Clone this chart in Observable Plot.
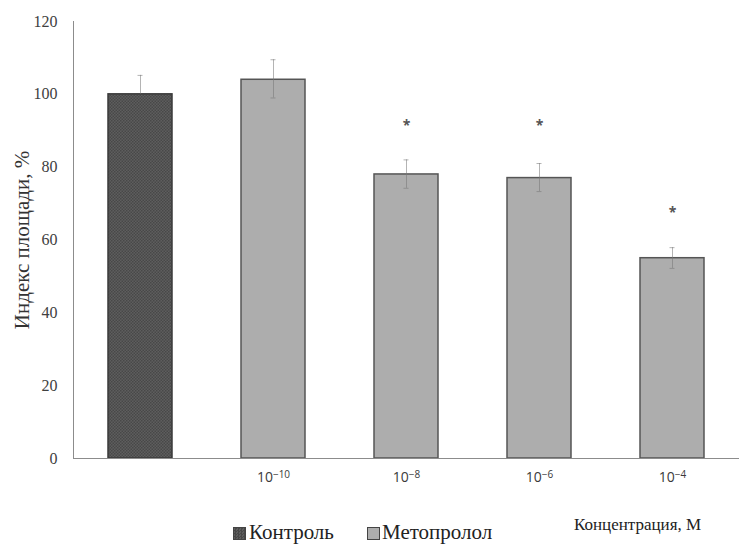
<!DOCTYPE html>
<html><head><meta charset="utf-8">
<script src="https://cdn.jsdelivr.net/npm/d3@7"></script>
<script src="https://cdn.jsdelivr.net/npm/@observablehq/plot@0.6"></script>
<style>
body{margin:0;background:#fff;}
#wrap{position:relative;width:746px;height:549px;overflow:hidden;}
.leg{position:absolute;font-family:"Liberation Serif","DejaVu Serif",serif;color:#222;white-space:nowrap;}
.sw{position:absolute;width:11px;height:11px;border:1px solid #444;}
</style></head><body><div id="wrap"></div>
<script>
// ---- data ----
const categories = ["control", "1e-10", "1e-8", "1e-6", "1e-4"];
const tickBase = ["", "10", "10", "10", "10"];
const tickExp = ["", "−10", "−8", "−6", "−4"];
const groups = ["Контроль", "Метопролол"];
const groupOf = ["Контроль", "Метопролол", "Метопролол", "Метопролол", "Метопролол"];
const values = [100, 104, 78, 77, 55];
const errPlus = [5.2, 5.5, 4, 4, 2.9];
const errMinus = [0, 5, 3.8, 3.7, 2.8];
const starY = [null, null, 92, 92, 68];
const yTicks = [0, 20, 40, 60, 80, 100, 120];
const yLabel = "Индекс площади, %";
const xLabel = "Концентрация, М";

const data = categories.map((c, i) => ({
  cat: c, group: groupOf[i], value: values[i],
  lo: values[i] - errMinus[i], hi: values[i] + errPlus[i],
  hasLo: errMinus[i] > 0, star: starY[i]
}));

const serif = '"Liberation Serif","DejaVu Serif",serif';
const sans = '"Open Sans","Liberation Sans",sans-serif';

const plot = Plot.plot({
  width: 746, height: 500,
  marginLeft: 73, marginRight: 7, marginTop: 21, marginBottom: 42,
  style: {background: "#fff", color: "#404040"},
  x: {domain: categories, paddingInner: 0.52, paddingOuter: 0.26, axis: null},
  y: {domain: [0, 120], axis: null},
  marks: [
    Plot.barY(data.filter(d => d.group === groups[0]), {x: "cat", y: "value", fill: "url(#ctrlPat)", stroke: "#3a3a3a", strokeWidth: 1.5}),
    Plot.barY(data.filter(d => d.group === groups[1]), {x: "cat", y: "value", fill: "#adadad", stroke: "#555", strokeWidth: 1.5}),
    Plot.ruleX(data, {x: "cat", y1: "lo", y2: "hi", stroke: "#777", strokeOpacity: 0.55}),
    Plot.tickY(data, {x: "cat", y: "hi", insetLeft: 29.5, insetRight: 29.5, stroke: "#777", strokeOpacity: 0.55}),
    Plot.tickY(data.filter(d => d.hasLo), {x: "cat", y: "lo", insetLeft: 29.5, insetRight: 29.5, stroke: "#777", strokeOpacity: 0.55}),
    Plot.text(data.filter(d => d.star != null), {x: "cat", y: "star", text: () => "*", fontSize: 14, fontWeight: 700, fill: "#555", dy: 2}),
    Plot.ruleY([0], {stroke: "#8c8c8c"}),
    Plot.frame({anchor: "left", stroke: "#8c8c8c"}),
    Plot.axisY({ticks: yTicks, tickSize: 0, tickPadding: 16, fontSize: 16,
      label: yLabel, labelAnchor: "center", labelOffset: 59, labelArrow: "none"}),
    Plot.axisX({tickSize: 0, tickPadding: 14, fontSize: 14,
      tickFormat: d => d, label: null})
  ]
});

const svg = d3.select(plot);
const defs = svg.insert("defs", ":first-child");
const pat = defs.append("pattern").attr("id", "ctrlPat").attr("width", 3).attr("height", 3).attr("patternUnits", "userSpaceOnUse");
pat.append("rect").attr("width", 3).attr("height", 3).attr("fill", "#5e5e5e");
pat.append("rect").attr("width", 1.5).attr("height", 1.5).attr("fill", "#484848");
pat.append("rect").attr("x", 1.5).attr("y", 1.5).attr("width", 1.5).attr("height", 1.5).attr("fill", "#484848");

// fonts
svg.selectAll('[aria-label="y-axis tick label"] text').style("font-family", serif).style("font-size", "16px").attr("fill", "#404040");
svg.selectAll('[aria-label="y-axis label"] text').style("font-family", serif).style("font-size", "21px").attr("fill", "#333");
svg.selectAll('[aria-label="x-axis tick label"] text').each(function() {
  const t = d3.select(this);
  const i = categories.indexOf(t.text().trim());
  t.style("font-family", sans).style("font-size", "14px").style("font-weight", "500").attr("fill", "#3a3a3a").attr("text-anchor", "middle");
  t.text(null);
  if (i < 0 || !tickBase[i]) return;
  t.append("tspan").text(tickBase[i]);
  t.append("tspan").attr("dy", "-0.42em").style("font-size", "10px").text(tickExp[i]);
});

const wrap = document.getElementById("wrap");
wrap.appendChild(plot);

// legend below the svg
const pat2 = 'repeating-conic-gradient(#484848 0% 25%, #5e5e5e 0% 50%) 0 0/3px 3px';
const legend = [
  {type: "sw", left: 233, top: 527, bg: pat2},
  {type: "txt", left: 249, top: 522, text: groups[0], size: 21},
  {type: "sw", left: 367, top: 527, bg: "#adadad"},
  {type: "txt", left: 382, top: 522, text: groups[1], size: 21},
  {type: "txt", left: 574, top: 516, text: xLabel, size: 17}
];
legend.forEach(l => {
  const el = document.createElement("div");
  if (l.type === "sw") {
    el.className = "sw"; el.style.left = l.left + "px"; el.style.top = l.top + "px"; el.style.background = l.bg;
  } else {
    el.className = "leg"; el.style.left = l.left + "px"; el.style.top = l.top + "px";
    el.style.fontFamily = serif;
    el.style.fontSize = l.size + "px"; el.style.lineHeight = l.size + "px"; el.textContent = l.text;
  }
  wrap.appendChild(el);
});
</script></body></html>
